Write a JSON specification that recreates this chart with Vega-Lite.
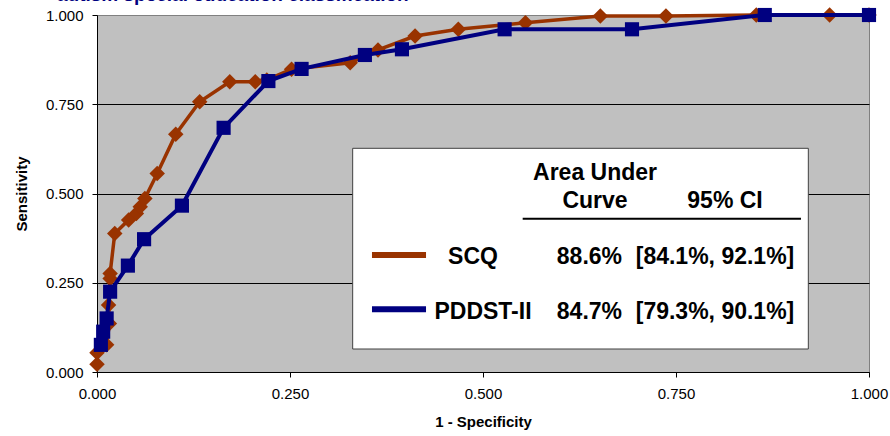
{
  "$schema": "https://vega.github.io/schema/vega-lite/v6.json",
  "autosize": "none",
  "width": 772,
  "height": 357,
  "padding": {"left": 97, "top": 15, "right": 21, "bottom": 64},
  "background": "white",
  "title": {
    "text": "autism special education classification",
    "color": "#000080",
    "fontSize": 19,
    "fontWeight": "bold",
    "font": "Liberation Sans",
    "anchor": "start",
    "frame": "group",
    "dx": -40,
    "dy": 13,
    "baseline": "alphabetic",
    "offset": 0
  },
  "datasets": {
    "roc": [
      {"series": "SCQ", "fpr": 0.0, "tpr": 0.022},
      {"series": "SCQ", "fpr": 0.0, "tpr": 0.054},
      {"series": "SCQ", "fpr": 0.0125, "tpr": 0.076},
      {"series": "SCQ", "fpr": 0.016, "tpr": 0.136},
      {"series": "SCQ", "fpr": 0.015, "tpr": 0.188},
      {"series": "SCQ", "fpr": 0.017, "tpr": 0.262},
      {"series": "SCQ", "fpr": 0.017, "tpr": 0.276},
      {"series": "SCQ", "fpr": 0.023, "tpr": 0.388},
      {"series": "SCQ", "fpr": 0.041, "tpr": 0.426},
      {"series": "SCQ", "fpr": 0.051, "tpr": 0.444},
      {"series": "SCQ", "fpr": 0.056, "tpr": 0.463},
      {"series": "SCQ", "fpr": 0.062, "tpr": 0.486},
      {"series": "SCQ", "fpr": 0.078, "tpr": 0.556},
      {"series": "SCQ", "fpr": 0.102, "tpr": 0.666},
      {"series": "SCQ", "fpr": 0.133, "tpr": 0.757},
      {"series": "SCQ", "fpr": 0.172, "tpr": 0.813},
      {"series": "SCQ", "fpr": 0.205, "tpr": 0.813},
      {"series": "SCQ", "fpr": 0.22, "tpr": 0.818},
      {"series": "SCQ", "fpr": 0.252, "tpr": 0.848},
      {"series": "SCQ", "fpr": 0.328, "tpr": 0.866},
      {"series": "SCQ", "fpr": 0.364, "tpr": 0.902},
      {"series": "SCQ", "fpr": 0.412, "tpr": 0.941},
      {"series": "SCQ", "fpr": 0.468, "tpr": 0.96},
      {"series": "SCQ", "fpr": 0.555, "tpr": 0.978},
      {"series": "SCQ", "fpr": 0.652, "tpr": 0.997},
      {"series": "SCQ", "fpr": 0.737, "tpr": 0.997},
      {"series": "SCQ", "fpr": 0.854, "tpr": 1.0},
      {"series": "SCQ", "fpr": 0.949, "tpr": 1.0},
      {"series": "SCQ", "fpr": 1.0, "tpr": 1.0},
      {"series": "PDDST-II", "fpr": 0.005, "tpr": 0.076},
      {"series": "PDDST-II", "fpr": 0.008, "tpr": 0.113},
      {"series": "PDDST-II", "fpr": 0.0125, "tpr": 0.15},
      {"series": "PDDST-II", "fpr": 0.017, "tpr": 0.225},
      {"series": "PDDST-II", "fpr": 0.04, "tpr": 0.298},
      {"series": "PDDST-II", "fpr": 0.061, "tpr": 0.372},
      {"series": "PDDST-II", "fpr": 0.11, "tpr": 0.466},
      {"series": "PDDST-II", "fpr": 0.164, "tpr": 0.684},
      {"series": "PDDST-II", "fpr": 0.222, "tpr": 0.815},
      {"series": "PDDST-II", "fpr": 0.265, "tpr": 0.849},
      {"series": "PDDST-II", "fpr": 0.347, "tpr": 0.888},
      {"series": "PDDST-II", "fpr": 0.395, "tpr": 0.904},
      {"series": "PDDST-II", "fpr": 0.528, "tpr": 0.96},
      {"series": "PDDST-II", "fpr": 0.693, "tpr": 0.96},
      {"series": "PDDST-II", "fpr": 0.865, "tpr": 1.0},
      {"series": "PDDST-II", "fpr": 1.0, "tpr": 1.0}
    ],
    "auc": [
      {"series": "SCQ", "auc": "88.6%", "ci": "[84.1%, 92.1%]"},
      {"series": "PDDST-II", "auc": "84.7%", "ci": "[79.3%, 90.1%]"}
    ],
    "header": [
      {"line1": "Area Under", "line2": "Curve", "ci": "95% CI"}
    ]
  },
  "layer": [
    {
      "data": {"name": "roc"},
      "transform": [{"filter": "datum.series === 'SCQ'"}],
      "mark": {"type": "line", "strokeWidth": 3.5, "point": {"shape": "diamond", "size": 240, "filled": true, "opacity": 1}},
      "encoding": {
        "x": {"field": "fpr", "type": "quantitative", "title": "1 - Specificity", "scale": {"domain": [0, 1], "nice": false, "zero": false},
          "axis": {"values": [0, 0.25, 0.5, 0.75, 1], "format": ".3f"}},
        "y": {"field": "tpr", "type": "quantitative", "title": "Sensitivity", "scale": {"domain": [0, 1], "nice": false, "zero": false},
          "axis": {"values": [0, 0.25, 0.5, 0.75, 1], "format": ".3f"}},
        "color": {"field": "series", "type": "nominal", "scale": {"domain": ["SCQ", "PDDST-II"], "range": ["#993300", "#000080"]}, "legend": null},
        "order": {"value": null}
      }
    },
    {
      "data": {"name": "roc"},
      "transform": [{"filter": "datum.series === 'PDDST-II'"}],
      "mark": {"type": "line", "strokeWidth": 4, "point": {"shape": "square", "size": 200, "filled": true, "opacity": 1}},
      "encoding": {
        "x": {"field": "fpr", "type": "quantitative", "title": "1 - Specificity"},
        "y": {"field": "tpr", "type": "quantitative", "title": "Sensitivity"},
        "color": {"field": "series", "type": "nominal", "legend": null},
        "order": {"value": null}
      }
    },
    {
      "data": {"name": "header"},
      "mark": {"type": "rect", "fill": "white", "stroke": "#404040", "strokeWidth": 1},
      "encoding": {
        "x": {"datum": 0.3312, "type": "quantitative", "title": "1 - Specificity"},
        "x2": {"datum": 0.9214},
        "y": {"datum": 0.6266, "type": "quantitative", "title": "Sensitivity"},
        "y2": {"datum": 0.0644}
      }
    },
    {
      "data": {"name": "header"},
      "mark": {"type": "rule", "color": "black", "strokeWidth": 2},
      "encoding": {
        "x": {"datum": 0.5514, "type": "quantitative", "title": "1 - Specificity"},
        "x2": {"datum": 0.9119},
        "y": {"datum": 0.4294, "type": "quantitative", "title": "Sensitivity"}
      }
    },
    {
      "data": {"name": "header"},
      "mark": {"type": "text", "font": "Liberation Sans", "fontSize": 23, "fontWeight": "bold", "color": "black", "align": "center", "baseline": "middle"},
      "encoding": {
        "x": {"datum": 0.6451, "type": "quantitative", "title": "1 - Specificity"},
        "y": {"datum": 0.5574, "type": "quantitative", "title": "Sensitivity"},
        "text": {"field": "line1"}
      }
    },
    {
      "data": {"name": "header"},
      "mark": {"type": "text", "font": "Liberation Sans", "fontSize": 23, "fontWeight": "bold", "color": "black", "align": "center", "baseline": "middle"},
      "encoding": {
        "x": {"datum": 0.6451, "type": "quantitative", "title": "1 - Specificity"},
        "y": {"datum": 0.479, "type": "quantitative", "title": "Sensitivity"},
        "text": {"field": "line2"}
      }
    },
    {
      "data": {"name": "header"},
      "mark": {"type": "text", "font": "Liberation Sans", "fontSize": 23, "fontWeight": "bold", "color": "black", "align": "center", "baseline": "middle"},
      "encoding": {
        "x": {"datum": 0.8135, "type": "quantitative", "title": "1 - Specificity"},
        "y": {"datum": 0.479, "type": "quantitative", "title": "Sensitivity"},
        "text": {"field": "ci"}
      }
    },
    {
      "data": {"name": "auc"},
      "transform": [{"filter": "datum.series === 'SCQ'"}],
      "layer": [
        {
          "mark": {"type": "rule", "strokeWidth": 6},
          "encoding": {
            "x": {"datum": 0.3562, "type": "quantitative", "title": "1 - Specificity"},
            "x2": {"datum": 0.4262},
            "y": {"datum": 0.3277, "type": "quantitative", "title": "Sensitivity"},
            "color": {"field": "series", "type": "nominal", "legend": null}
          }
        },
        {
          "mark": {"type": "text", "font": "Liberation Sans", "fontSize": 23, "fontWeight": "bold", "color": "black", "align": "center", "baseline": "middle"},
          "encoding": {
            "x": {"datum": 0.487, "type": "quantitative", "title": "1 - Specificity"},
            "y": {"datum": 0.3221, "type": "quantitative", "title": "Sensitivity"},
            "text": {"field": "series"}
          }
        },
        {
          "mark": {"type": "text", "font": "Liberation Sans", "fontSize": 23, "fontWeight": "bold", "color": "black", "align": "right", "baseline": "middle"},
          "encoding": {
            "x": {"datum": 0.6801, "type": "quantitative", "title": "1 - Specificity"},
            "y": {"datum": 0.3221, "type": "quantitative", "title": "Sensitivity"},
            "text": {"field": "auc"}
          }
        },
        {
          "mark": {"type": "text", "font": "Liberation Sans", "fontSize": 23, "fontWeight": "bold", "color": "black", "align": "center", "baseline": "middle"},
          "encoding": {
            "x": {"datum": 0.8005, "type": "quantitative", "title": "1 - Specificity"},
            "y": {"datum": 0.3221, "type": "quantitative", "title": "Sensitivity"},
            "text": {"field": "ci"}
          }
        }
      ]
    },
    {
      "data": {"name": "auc"},
      "transform": [{"filter": "datum.series === 'PDDST-II'"}],
      "layer": [
        {
          "mark": {"type": "rule", "strokeWidth": 6},
          "encoding": {
            "x": {"datum": 0.3562, "type": "quantitative", "title": "1 - Specificity"},
            "x2": {"datum": 0.4262},
            "y": {"datum": 0.1756, "type": "quantitative", "title": "Sensitivity"},
            "color": {"field": "series", "type": "nominal", "legend": null}
          }
        },
        {
          "mark": {"type": "text", "font": "Liberation Sans", "fontSize": 23, "fontWeight": "bold", "color": "black", "align": "center", "baseline": "middle"},
          "encoding": {
            "x": {"datum": 0.5, "type": "quantitative", "title": "1 - Specificity"},
            "y": {"datum": 0.169, "type": "quantitative", "title": "Sensitivity"},
            "text": {"field": "series"}
          }
        },
        {
          "mark": {"type": "text", "font": "Liberation Sans", "fontSize": 23, "fontWeight": "bold", "color": "black", "align": "right", "baseline": "middle"},
          "encoding": {
            "x": {"datum": 0.6801, "type": "quantitative", "title": "1 - Specificity"},
            "y": {"datum": 0.169, "type": "quantitative", "title": "Sensitivity"},
            "text": {"field": "auc"}
          }
        },
        {
          "mark": {"type": "text", "font": "Liberation Sans", "fontSize": 23, "fontWeight": "bold", "color": "black", "align": "center", "baseline": "middle"},
          "encoding": {
            "x": {"datum": 0.8005, "type": "quantitative", "title": "1 - Specificity"},
            "y": {"datum": 0.169, "type": "quantitative", "title": "Sensitivity"},
            "text": {"field": "ci"}
          }
        }
      ]
    }
  ],
  "config": {
    "font": "Liberation Sans",
    "view": {"fill": "#C0C0C0", "stroke": "#808080", "strokeWidth": 1},
    "axisX": {
      "grid": false,
      "domainColor": "black",
      "domainWidth": 1,
      "tickColor": "black",
      "tickSize": 5,
      "labelFontSize": 15,
      "labelColor": "black",
      "labelPadding": 9,
      "labelFlush": false,
      "labelOverlap": false,
      "titleFontSize": 15,
      "titleFontWeight": "bold",
      "titleColor": "black",
      "titlePadding": 13
    },
    "axisY": {
      "grid": true,
      "gridColor": {"condition": {"test": "datum.value >= 1", "value": "#808080"}, "value": "black"},
      "gridWidth": 1,
      "gridOpacity": 1,
      "domainColor": "black",
      "domainWidth": 1,
      "tickColor": "black",
      "tickSize": 5,
      "labelFontSize": 15,
      "labelColor": "black",
      "labelPadding": 9,
      "labelFlush": false,
      "labelOverlap": false,
      "titleFontSize": 15,
      "titleFontWeight": "bold",
      "titleColor": "black",
      "titlePadding": 16
    }
  }
}
